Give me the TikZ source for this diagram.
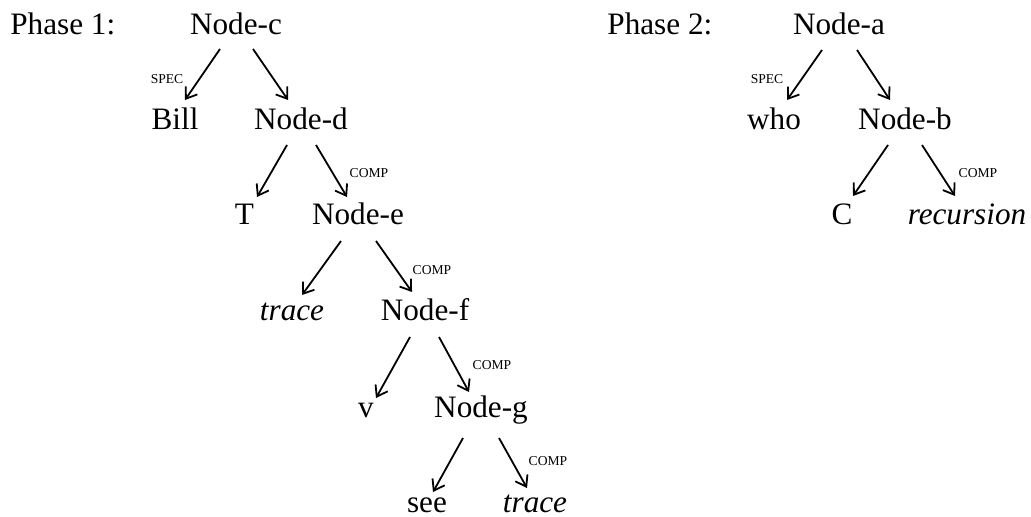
\documentclass[tikz,border=0pt]{standalone}
\usepackage{fontspec}
\setmainfont{Liberation Serif}
\usetikzlibrary{arrows.meta}

\begin{document}
\begin{tikzpicture}[x=0.5pt,y=-0.5pt,
  word/.style={anchor=base,inner sep=0pt,font=\fontsize{15.6pt}{18pt}\selectfont},
  phase/.style={word,anchor=base west},
  tag/.style={anchor=center,inner sep=0pt,font=\fontsize{6.8pt}{8pt}\selectfont},
  arr/.style={line width=0.9pt,-{Straight Barb[length=5pt,width=7pt,line width=0.9pt]}}]
\useasboundingbox (0,0) rectangle (1031,517);

% Phase 1 tree
\node[phase] (p1) at (10,35) {Phase 1:};
\node[word] (c)    at (236,35)   {Node-c};
\node[word] (bill) at (175,130)  {Bill};
\node[word] (d)    at (301,130)  {Node-d};
\node[word] (t)    at (244.5,225){T};
\node[word] (e)    at (358,225)  {Node-e};
\node[word] (tr1)  at (292,321)  {\itshape trace};
\node[word] (f)    at (425,321)  {Node-f};
\node[word] (v)    at (366,417)  {v};
\node[word] (g)    at (481,417)  {Node-g};
\node[word] (see)  at (427,512)  {see};
\node[word] (tr2)  at (535,512)  {\itshape trace};

\draw[arr] ([shift={(-16,14)}]c.base) -- ([shift={(10,-30)}]bill.base);
\draw[arr] ([shift={(17,14)}]c.base)  -- ([shift={(-13,-30)}]d.base);
\draw[arr] ([shift={(-14,15)}]d.base) -- ([shift={(12.5,-28)}]t.base);
\draw[arr] ([shift={(15,15)}]d.base)  -- ([shift={(-11,-28)}]e.base);
\draw[arr] ([shift={(-17,16)}]e.base) -- ([shift={(10,-26)}]tr1.base);
\draw[arr] ([shift={(18,16)}]e.base)  -- ([shift={(-13,-29)}]f.base);
\draw[arr] ([shift={(-15,16)}]f.base) -- ([shift={(10,-19)}]v.base);
\draw[arr] ([shift={(14,16)}]f.base)  -- ([shift={(-12,-25)}]g.base);
\draw[arr] ([shift={(-18,21)}]g.base) -- ([shift={(6,-20)}]see.base);
\draw[arr] ([shift={(18,21)}]g.base)  -- ([shift={(-8,-24)}]tr2.base);

\node[tag] (s1) at (167,79)  {SPEC};
\node[tag] (k1) at (369,173) {COMP};
\node[tag] (k2) at (432,270) {COMP};
\node[tag] (k3) at (492,365) {COMP};
\node[tag] (k4) at (548,461) {COMP};

% Phase 2 tree
\node[phase] (p2) at (607,35) {Phase 2:};
\node[word] (a)   at (839,35)  {Node-a};
\node[word] (who) at (774,130) {who};
\node[word] (b)   at (905,130) {Node-b};
\node[word] (cc)  at (842,225) {C};
\node[word] (rec) at (967,225) {\itshape recursion};

\draw[arr] ([shift={(-17,15)}]a.base) -- ([shift={(13,-30)}]who.base);
\draw[arr] ([shift={(18,15)}]a.base)  -- ([shift={(-15,-30)}]b.base);
\draw[arr] ([shift={(-17,15)}]b.base) -- ([shift={(11,-29)}]cc.base);
\draw[arr] ([shift={(17,15)}]b.base)  -- ([shift={(-12,-29)}]rec.base);

\node[tag] (s2) at (767,79)  {SPEC};
\node[tag] (k5) at (978,173) {COMP};
\end{tikzpicture}
\end{document}
